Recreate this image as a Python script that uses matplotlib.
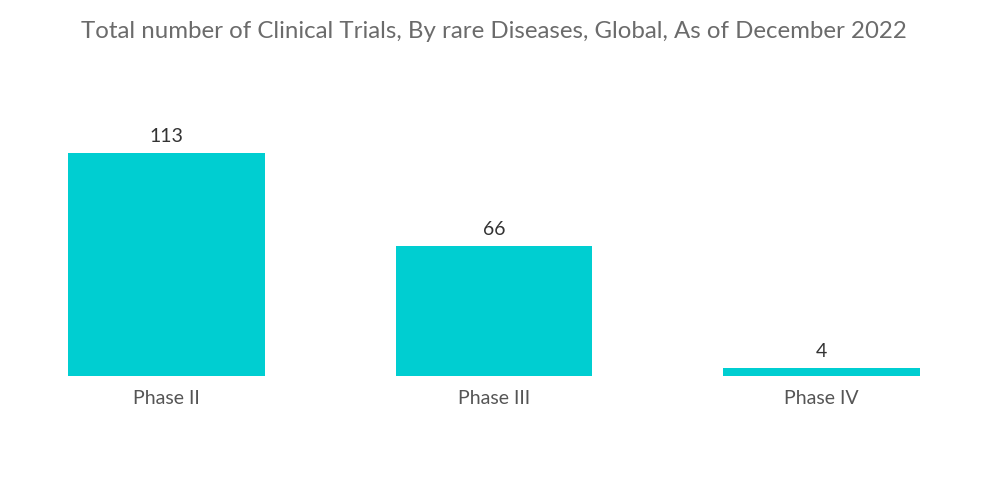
import numpy as np
import matplotlib.pyplot as plt

plt.rcParams['font.family'] = ['Lato', 'DejaVu Sans']

# data
phases = ["Phase II", "Phase III", "Phase IV"]
trials = [113, 66, 4]

fig = plt.figure(figsize=(10, 5.04), dpi=100)
ax = fig.add_axes([0.003, 128 / 504, 0.982, 276 / 504])

x = np.arange(len(phases))
bars = ax.bar(x, trials, width=0.6, color="#00CED1")

# value labels
for b, v in zip(bars, trials):
    ax.text(b.get_x() + b.get_width() / 2, v + 4, str(v),
            ha="center", va="bottom", fontsize=14, color="#333333")

ax.set_xticks(x)
ax.set_xticklabels(phases, fontsize=14, color="#555555")
ax.tick_params(axis="x", length=0, pad=10)
ax.set_yticks([])
ax.set_xlim(-0.5, 2.5)
ax.set_ylim(0, 140)
for s in ax.spines.values():
    s.set_visible(False)

fig.text(0.494, 0.937, "Total number of Clinical Trials, By rare Diseases, Global, As of December 2022",
         ha="center", va="center", fontsize=17.3, color="#6b6b6b")

fig.savefig("out.png", dpi=100)
